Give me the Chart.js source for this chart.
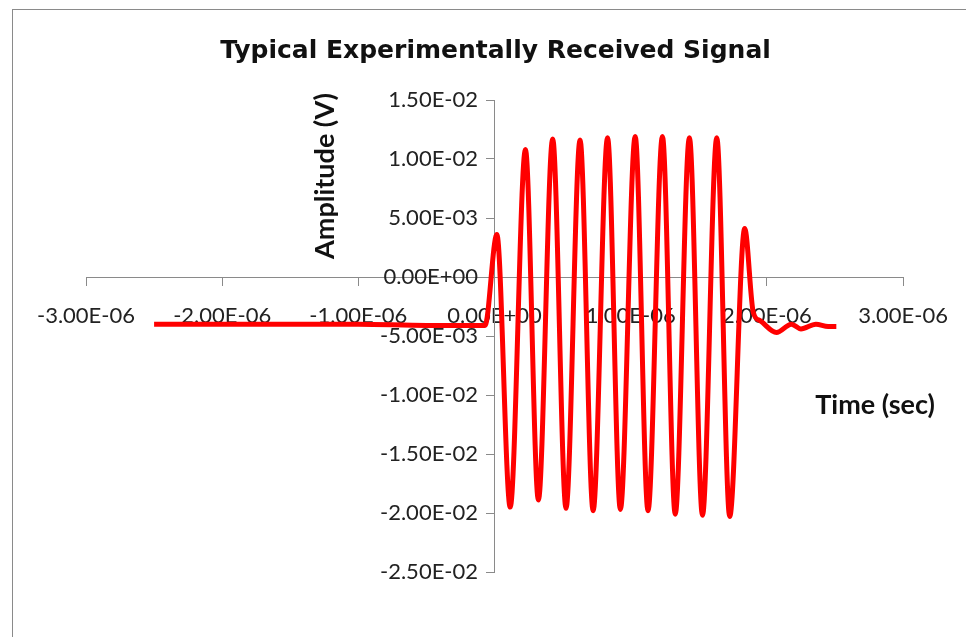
<!DOCTYPE html>
<html>
<head>
<meta charset="utf-8">
<script src="https://cdn.jsdelivr.net/npm/chart.js@4/dist/chart.umd.min.js"></script>
<style>
  html, body { margin: 0; padding: 0; background: #fff; overflow: hidden; }
  #wrap { position: relative; width: 966px; height: 637px; }
  #frame { position: absolute; left: 12px; top: 9px; width: 1100px; height: 800px; border: 1px solid #8a8a8a; }
  canvas { position: absolute; left: 0; top: 0; }
</style>
</head>
<body>
<div id="wrap">
  <div id="frame"></div>
  <canvas id="signal-chart" width="966" height="637"></canvas>
</div>
<script>
// time (sec) and amplitude (V)
const timeSec = [
  -2.50E-06, -2.00E-06, -1.50E-06, -1.00E-06, -0.50E-06, -0.20E-06, -0.07E-06,
  0.017E-06, 0.115E-06, 0.227E-06, 0.322E-06, 0.427E-06, 0.525E-06, 0.628E-06,
  0.724E-06, 0.830E-06, 0.924E-06, 1.033E-06, 1.127E-06, 1.233E-06, 1.327E-06,
  1.431E-06, 1.527E-06, 1.632E-06, 1.727E-06, 1.837E-06, 1.90E-06, 1.95E-06,
  2.07E-06, 2.18E-06, 2.25E-06, 2.36E-06, 2.45E-06, 2.51E-06
];
const amplitudeV = [
  -0.0040, -0.0040, -0.0040, -0.0040, -0.0041, -0.0041, -0.0041,
  0.0036, -0.0195, 0.0108, -0.0189, 0.0117, -0.0196, 0.0116,
  -0.0198, 0.0118, -0.0197, 0.0119, -0.0198, 0.0119, -0.0201,
  0.0118, -0.0202, 0.0118, -0.0203, 0.0041, -0.0030, -0.0037,
  -0.0047, -0.0040, -0.0044, -0.0040, -0.0042, -0.0042
];

const xTicks = [-3e-6, -2e-6, -1e-6, 0, 1e-6, 2e-6, 3e-6];
const xTickLabels = ["-3.00E-06", "-2.00E-06", "-1.00E-06", "0.00E+00", "1.00E-06", "2.00E-06", "3.00E-06"];
const yTicks = [-0.025, -0.02, -0.015, -0.01, -0.005, 0, 0.005, 0.01, 0.015];
const yTickLabels = ["-2.50E-02", "-2.00E-02", "-1.50E-02", "-1.00E-02", "-5.00E-03", "0.00E+00", "5.00E-03", "1.00E-02", "1.50E-02"];

const points = timeSec.map((t, i) => ({ x: t, y: amplitudeV[i] }));

const tickFont = { family: "Lato", size: 22 };
const axisGrey = "#8a8a8a";

// axis titles sit away from the crossing axes, so draw them by hand
const axisTitles = {
  id: "axisTitles",
  afterDraw(chart) {
    const ctx = chart.ctx;
    const area = chart.chartArea;
    ctx.save();
    ctx.fillStyle = "#111";
    ctx.font = "bold 27px Lato";
    ctx.textAlign = "center";
    ctx.textBaseline = "middle";
    ctx.fillText("Time (sec)", area.right - 28, 405);
    ctx.translate(325, 176);
    ctx.rotate(-Math.PI / 2);
    ctx.fillText("Amplitude (V)", 0, 0);
    ctx.restore();
  }
};

new Chart("signal-chart", {
  type: "line",
  data: {
    datasets: [{
      data: points,
      borderColor: "#ff0000",
      borderWidth: 5,
      pointRadius: 0,
      cubicInterpolationMode: "monotone",
      fill: false
    }]
  },
  options: {
    responsive: false,
    animation: false,
    layout: { padding: { left: 86, right: 61, top: 0, bottom: 65 } },
    plugins: {
      legend: { display: false },
      tooltip: { enabled: false },
      title: {
        display: true,
        text: "Typical Experimentally Received Signal",
        color: "#111",
        font: { family: "DejaVu Sans", size: 25, weight: "bold" },
        padding: { top: 36, bottom: 34 }
      }
    },
    scales: {
      x: {
        type: "linear",
        min: -3e-6,
        max: 3e-6,
        position: { y: 0 },
        afterBuildTicks: (s) => { s.ticks = xTicks.map(v => ({ value: v })); },
        ticks: {
          callback: (v, i) => xTickLabels[i],
          font: tickFont,
          color: "#222",
          padding: 18,
          maxRotation: 0,
          autoSkip: false
        },
        grid: { drawOnChartArea: false, drawTicks: true, tickLength: 8, color: axisGrey },
        border: { color: axisGrey, width: 1 }
      },
      y: {
        type: "linear",
        min: -0.025,
        max: 0.015,
        position: { x: 0 },
        afterBuildTicks: (s) => { s.ticks = yTicks.map(v => ({ value: v })); },
        ticks: {
          // centred axes ignore padding, so an em space keeps labels off the axis
          callback: (v, i) => yTickLabels[i] + "\u2003",
          font: tickFont,
          color: "#222",
          autoSkip: false
        },
        grid: { drawOnChartArea: false, drawTicks: true, tickLength: 8, color: axisGrey },
        border: { color: axisGrey, width: 1 }
      }
    }
  },
  plugins: [axisTitles]
});
</script>
</body>
</html>
